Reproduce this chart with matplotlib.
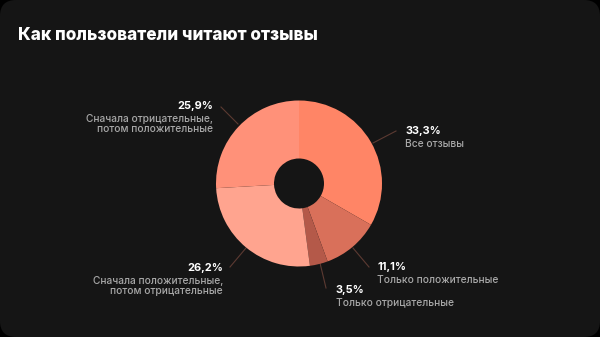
import matplotlib.pyplot as plt
from matplotlib.patches import FancyBboxPatch

plt.rcParams['font.family'] = ['Inter', 'DejaVu Sans']

title = 'Как пользователи читают отзывы'
shares = [33.3, 11.1, 3.5, 26.2, 25.9]
pct_labels = ['33,3%', '11,1%', '3,5%', '26,2%', '25,9%']
names = ['Все отзывы',
         'Только положительные',
         'Только отрицательные',
         'Сначала положительные,\nпотом отрицательные',
         'Сначала отрицательные,\nпотом положительные']
colors = ['#ff8566', '#d9705a', '#b45949', '#ffa48f', '#ff9179']

W, H = 600, 337
fig = plt.figure(figsize=(W / 100, H / 100), dpi=100)
fig.patch.set_facecolor('#000000')

# background layer in pixel coordinates (y downwards)
bg = fig.add_axes([0, 0, 1, 1])
bg.set_xlim(0, W)
bg.set_ylim(H, 0)
bg.axis('off')
bg.add_patch(FancyBboxPatch((0, 0), W, H, boxstyle='round,pad=0,rounding_size=16',
                            fc='#151515', ec='none'))
bg.text(18, 35, title, color='white', fontsize=12.35, fontweight='heavy',
        va='center', ha='left')

# donut
cx, cy, r = 299, 183.5, 83
pax = fig.add_axes([(cx - r) / W, (H - cy - r) / H, 2 * r / W, 2 * r / H])
pax.pie(shares, colors=colors, startangle=90, counterclock=False,
        wedgeprops=dict(width=1 - 25 / r, linewidth=0))
pax.set_xlim(-1, 1)
pax.set_ylim(-1, 1)
pax.set_aspect('equal')
pax.axis('off')

# leader lines and labels: (line start, line end, text anchor, alignment)
layout = [
    ((373, 143), (396, 131), (405, 131), 'left'),
    ((353, 248), (369, 267), (377, 267), 'left'),
    ((320, 263), (326, 288), (336, 290), 'left'),
    ((246, 248), (230, 267), (223, 268), 'right'),
    ((238, 124), (221, 107), (213, 106), 'right'),
]
for (p0, p1, t, ha), pct, name in zip(layout, pct_labels, names):
    bg.plot([p0[0], p1[0]], [p0[1], p1[1]], color='#5c3a32', lw=0.8)
    bg.text(t[0], t[1], pct, color='white', fontsize=7.9, fontweight='bold',
            ha=ha, va='center')
    bg.text(t[0], t[1] + 8, name, color='#a8a8a8', fontsize=7.35, ha=ha,
            va='top', linespacing=1.0, fontweight='medium')

fig.savefig('out.png', dpi=100, facecolor=fig.get_facecolor())
